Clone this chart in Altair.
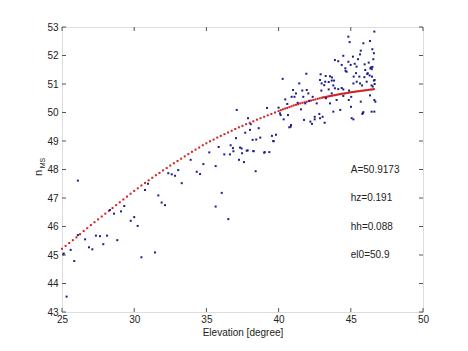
import altair as alt
import pandas as pd

# ---- data ----
blue_el = [25.09, 25.12, 25.32, 25.60, 25.85, 26.10, 26.10, 26.60, 26.87, 27.10,
           27.35, 27.63, 27.86, 28.12, 28.32, 28.60, 28.83, 29.09, 29.31, 29.76,
           30.00, 30.24, 30.50, 30.75, 30.96, 31.44, 31.67, 31.90, 32.13, 32.36,
           32.60, 32.83, 33.05, 33.29, 33.91, 34.33, 34.56, 34.79, 35.20, 35.64,
           35.64, 35.85, 36.06, 36.52, 36.24, 36.63, 36.68, 36.84, 36.87, 37.05,
           37.10, 37.26, 37.44, 37.47, 37.60, 37.69, 37.86, 37.88, 38.02, 38.07,
           38.20, 38.27, 38.41, 38.45, 38.62, 38.73, 39.04, 39.20, 39.36, 39.54,
           39.66, 39.82, 40.00, 40.10, 40.46, 40.60, 40.65, 40.35, 40.74, 37.33,
           37.79, 38.25, 39.00, 39.63, 40.14, 40.83,
           40.28, 40.86, 40.90, 41.00, 41.10, 41.20, 41.32, 41.43, 41.55, 41.64,
           41.71, 41.76, 41.85, 41.92, 41.95, 42.06, 42.13, 42.20, 42.31, 42.36,
           42.50, 42.64, 42.82, 42.87, 42.91, 42.96, 42.98, 43.05, 43.16, 43.19,
           43.23, 43.26, 43.28, 43.47, 43.47, 43.56, 43.56, 43.68, 43.68, 43.70,
           43.79, 43.79, 43.84, 43.90, 43.90, 44.02, 44.13, 44.13, 44.27, 44.37,
           44.37, 44.48, 44.48, 44.48, 44.62, 44.64, 44.71, 44.83, 44.83, 44.86,
           44.88, 44.92, 44.99, 45.01, 45.03, 45.06, 45.15, 45.18, 45.18, 45.20,
           45.27, 45.36, 45.40, 45.41, 45.50, 45.59, 45.64, 45.64, 45.69, 45.69,
           45.78, 45.80, 45.84, 45.87, 45.87, 45.94, 45.96, 46.00, 46.10, 46.14,
           46.17, 46.24, 46.30, 46.33, 46.33, 46.35, 46.40, 46.44, 46.45, 46.47,
           46.49, 46.50, 46.52, 46.56, 46.60, 46.60, 46.63, 46.63, 46.63, 46.65,
           46.65, 46.70, 46.44, 42.50, 42.87]
blue_n = [45.02, 45.05, 43.54, 45.18, 44.79, 47.61, 45.70, 45.55, 45.27, 45.20,
          45.68, 45.66, 45.38, 45.68, 46.58, 46.45, 45.52, 46.53, 46.72, 46.20,
          46.33, 46.02, 44.92, 47.28, 47.50, 45.09, 47.09, 46.84, 46.75, 47.87,
          47.83, 47.78, 47.98, 47.52, 48.34, 47.92, 47.84, 48.19, 48.60, 48.12,
          46.70, 48.79, 47.18, 46.26, 48.53, 48.53, 48.85, 48.75, 48.64, 49.10,
          50.09, 48.34, 48.74, 48.57, 48.26, 49.29, 48.67, 49.80, 49.39, 49.59,
          49.04, 48.64, 47.94, 49.05, 49.45, 49.12, 48.61, 50.16, 48.61, 49.18,
          48.99, 49.22, 50.17, 49.97, 50.46, 50.30, 49.91, 49.76, 49.48, 48.77,
          48.66, 48.65, 48.59, 49.00, 49.91, 49.50,
          51.18, 49.56, 50.55, 50.79, 50.55, 50.67, 50.34, 51.02, 50.11, 50.77,
          50.55, 49.74, 50.32, 51.36, 50.79, 50.67, 50.41, 49.68, 49.60, 50.55,
          49.76, 50.32, 49.95, 51.14, 51.34, 50.77, 51.02, 49.85, 50.96, 49.64,
          51.08, 51.28, 50.50, 51.07, 50.81, 51.27, 50.32, 51.12, 50.67, 51.23,
          50.95, 50.03, 51.12, 50.85, 51.84, 50.44, 50.82, 51.80, 50.09, 50.86,
          51.67, 50.81, 50.58, 51.99, 51.55, 51.46, 51.43, 51.78, 52.66, 50.44,
          50.77, 52.47, 51.67, 50.20, 50.55, 49.80, 51.96, 51.02, 49.76, 51.26,
          51.71, 51.38, 51.61, 51.08, 51.87, 51.26, 51.02, 52.04, 52.17, 50.38,
          50.95, 49.95, 49.99, 52.43, 50.01, 51.24, 51.69, 51.49, 51.08, 51.35,
          51.38, 51.75, 51.30, 52.51, 50.60, 51.55, 51.58, 50.03, 51.52, 51.26,
          52.22, 51.60, 50.91, 51.87, 52.08, 51.12, 52.84, 50.44, 50.03, 51.14,
          51.00, 50.38, 50.95, 49.85, 49.80]

red_el = [25.00, 25.25, 25.50, 25.75, 26.00, 26.25, 26.50, 26.75, 27.00, 27.25,
          27.50, 27.75, 28.00, 28.25, 28.50, 28.75, 29.00, 29.25, 29.50, 29.75,
          30.00, 30.25, 30.50, 30.75, 31.00, 31.25, 31.50, 31.75, 32.00, 32.25,
          32.50, 32.75, 33.00, 33.25, 33.50, 33.75, 34.00, 34.25, 34.50, 34.75,
          35.00, 35.25, 35.50, 35.75, 36.00, 36.25, 36.50, 36.75, 37.00, 37.25,
          37.50, 37.75, 38.00, 38.25, 38.50, 38.75, 39.00, 39.25, 39.50, 39.75,
          40.00, 40.15, 40.30, 40.45, 40.60, 40.75, 40.90, 41.05, 41.20, 41.35,
          41.50, 41.65, 41.80, 41.95, 42.10, 42.25, 42.40, 42.55, 42.70, 42.85,
          43.00, 43.10, 43.20, 43.30, 43.40, 43.50, 43.60, 43.70, 43.80, 43.90,
          44.00, 44.10, 44.20, 44.30, 44.40, 44.50, 44.60, 44.70, 44.80, 44.90,
          45.00, 45.10, 45.20, 45.30, 45.40, 45.50, 45.60, 45.70, 45.80, 45.90,
          46.00, 46.10, 46.20, 46.30, 46.40, 46.50, 46.60]
red_n = [45.22, 45.32, 45.42, 45.52, 45.62, 45.73, 45.84, 45.94, 46.05, 46.15,
         46.25, 46.35, 46.45, 46.55, 46.65, 46.75, 46.85, 46.95, 47.05, 47.15,
         47.25, 47.34, 47.44, 47.53, 47.62, 47.71, 47.80, 47.88, 47.97, 48.05,
         48.14, 48.22, 48.30, 48.38, 48.46, 48.54, 48.62, 48.70, 48.77, 48.85,
         48.92, 48.99, 49.05, 49.12, 49.18, 49.24, 49.30, 49.36, 49.42, 49.48,
         49.53, 49.59, 49.64, 49.69, 49.75, 49.80, 49.85, 49.90, 49.95, 50.00,
         50.05, 50.08, 50.11, 50.14, 50.16, 50.19, 50.22, 50.25, 50.27, 50.29,
         50.32, 50.34, 50.36, 50.38, 50.40, 50.42, 50.44, 50.46, 50.48, 50.50,
         50.52, 50.53, 50.54, 50.55, 50.56, 50.57, 50.58, 50.59, 50.60, 50.61,
         50.62, 50.63, 50.64, 50.65, 50.66, 50.665, 50.67, 50.68, 50.69, 50.70,
         50.71, 50.72, 50.72, 50.73, 50.74, 50.745, 50.75, 50.76, 50.765, 50.77,
         50.78, 50.785, 50.79, 50.80, 50.805, 50.81, 50.82]

x_ticks = [25, 30, 35, 40, 45, 50]
y_ticks = [43, 44, 45, 46, 47, 48, 49, 50, 51, 52, 53]
note_text = ["A=50.9173", "hz=0.191", "hh=0.088", "el0=50.9"]
note_el = [45, 45, 45, 45]
note_n = [48, 47, 46, 45]

W, H = 361, 285
FONT = "Liberation Sans"

xs = alt.Scale(domain=[25, 50], nice=False, zero=False)
ys = alt.Scale(domain=[43, 53], nice=False, zero=False)
ax_x = alt.Axis(values=x_ticks, title="Elevation [degree]", ticks=False, domain=False,
                grid=False, labelFlush=False, labelPadding=2, titlePadding=3,
                labelFont=FONT, labelFontSize=10, labelColor="#222",
                titleFont=FONT, titleFontSize=10, titleFontWeight="normal", titleColor="#222")
ax_y = alt.Axis(values=y_ticks, title=None, ticks=False, domain=False, grid=False,
                labelFlush=False, labelPadding=4, labelFont=FONT, labelFontSize=10,
                labelColor="#222")

X = lambda: alt.X("el:Q", scale=xs, axis=ax_x)
Y = lambda: alt.Y("n:Q", scale=ys, axis=ax_y)

blue_df = pd.DataFrame({"el": blue_el, "n": blue_n})
red_df = pd.DataFrame({"el": red_el, "n": red_n})
note_df = pd.DataFrame({"el": note_el, "n": note_n, "t": note_text})
xt_df = pd.DataFrame({"el": x_ticks})
yt_df = pd.DataFrame({"n": y_ticks})

blue = alt.Chart(blue_df).mark_square(size=4, color="#1c1c8a", opacity=1).encode(x=X(), y=Y())
red = alt.Chart(red_df).mark_square(size=4, color="#d02020", opacity=1).encode(x=X(), y=Y())
notes = alt.Chart(note_df).mark_text(align="left", baseline="middle", font=FONT,
                                     fontSize=10, color="#222").encode(x=X(), y=Y(), text="t:N")

tick_col = "#555"
xt_bot = alt.Chart(xt_df).mark_rule(color=tick_col).encode(x=X(), y=alt.value(H), y2=alt.value(H - 4))
xt_top = alt.Chart(xt_df).mark_rule(color=tick_col).encode(x=X(), y=alt.value(0), y2=alt.value(4))
yt_l = alt.Chart(yt_df).mark_rule(color=tick_col).encode(y=Y(), x=alt.value(0), x2=alt.value(4))
yt_r = alt.Chart(yt_df).mark_rule(color=tick_col).encode(y=Y(), x=alt.value(W), x2=alt.value(W - 4))

ytitle_n = alt.Chart(pd.DataFrame({"t": ["n"]})).mark_text(
    angle=270, align="center", baseline="middle", font=FONT, fontSize=11, color="#222"
).encode(text="t:N", x=alt.value(-23), y=alt.value(146))
ytitle_sub = alt.Chart(pd.DataFrame({"t": ["MS"]})).mark_text(
    angle=270, align="center", baseline="middle", font=FONT, fontSize=7, color="#222"
).encode(text="t:N", x=alt.value(-19), y=alt.value(136))

chart = alt.layer(red, blue, notes, xt_bot, xt_top, yt_l, yt_r, ytitle_n, ytitle_sub).properties(
    width=W, height=H,
    autosize=alt.AutoSizeParams(type="none"),
    padding={"left": 62, "top": 27, "right": 45, "bottom": 39},
).configure_view(stroke="#555", strokeWidth=1).configure(background="white")

chart.save("out.html", embed_options={"renderer": "svg", "actions": False})
